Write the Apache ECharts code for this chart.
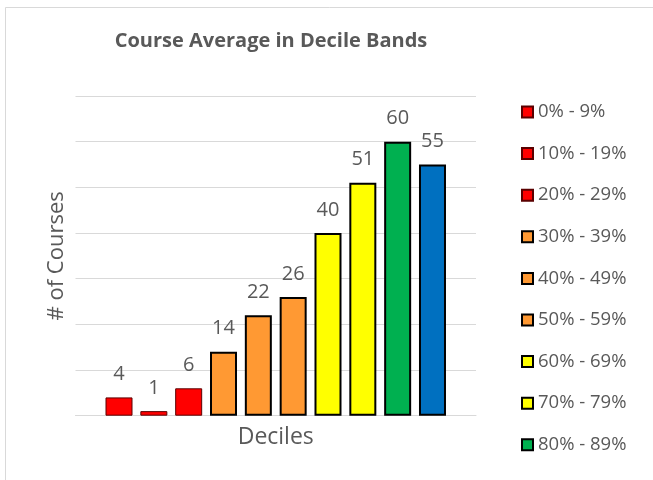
<!DOCTYPE html>
<html>
<head>
<meta charset="utf-8">
<script src="https://cdn.jsdelivr.net/npm/echarts@6/dist/echarts.min.js"></script>
<style>
html,body{margin:0;padding:0;background:#fff;}
#c{width:653px;height:480px;}
</style>
</head>
<body>
<div id="c"></div>
<script>
const deciles = ['0% - 9%','10% - 19%','20% - 29%','30% - 39%','40% - 49%','50% - 59%','60% - 69%','70% - 79%','80% - 89%','90% - 99%'];
const counts = [4,1,6,14,22,26,40,51,60,55];
const categories = ['Deciles'];
const yTicks = [0,10,20,30,40,50,60,70];
// the legend in the picture only has room for the first nine entries
const legendShown = deciles.slice(0, 9);

const fills = ['#FF0000','#FF0000','#FF0000','#FF9933','#FF9933','#FF9933','#FFFF00','#FFFF00','#00B050','#0070C0'];
const FONT = '"Open Sans", sans-serif';

const chart = echarts.init(document.getElementById('c'), null, {renderer:'canvas'});
const series = deciles.map((name, i) => {
  const red = fills[i] === '#FF0000';
  return {
    name: name,
    type: 'bar',
    data: [counts[i]],
    barWidth: 27,
    barGap: '29%',
    itemStyle: {
      color: fills[i],
      borderColor: red ? '#5a0000' : '#000000',
      borderWidth: red ? 1 : 2
    },
    label: {
      show: true,
      position: 'top',
      distance: 13,
      color: '#595959',
      fontFamily: FONT,
      fontSize: 20
    }
  };
});

chart.setOption({
  animation: false,
  backgroundColor: '#ffffff',
  title: {
    text: 'Course Average in Decile Bands',
    left: 266,
    textAlign: 'center',
    top: 26,
    textStyle: {fontFamily: FONT, fontSize: 20, fontWeight: 'bold', color: '#595959'}
  },
  grid: {left: 75.5, right: 177, top: 96, bottom: 64.3, containLabel: false},
  legend: {
    orient: 'vertical',
    left: 516,
    top: 97,
    height: 600,
    itemWidth: 11,
    itemHeight: 11,
    itemGap: 21.6,
    icon: 'rect',
    textStyle: {fontFamily: FONT, fontSize: 18.5, color: '#595959', lineHeight: 20},
    data: legendShown
  },
  xAxis: {
    type: 'category',
    data: categories,
    name: 'Deciles',
    nameLocation: 'middle',
    nameGap: 10,
    nameTextStyle: {fontFamily: FONT, fontSize: 23, color: '#595959'},
    axisLine: {show: true, lineStyle: {color: '#D9D9D9', width: 1}},
    axisTick: {show: false},
    axisLabel: {show: false}
  },
  yAxis: {
    type: 'value',
    min: yTicks[0],
    max: yTicks[yTicks.length-1],
    interval: yTicks[1]-yTicks[0],
    name: '# of Courses',
    nameLocation: 'middle',
    nameGap: 8,
    nameTextStyle: {fontFamily: FONT, fontSize: 22, color: '#595959'},
    axisLine: {show: false},
    axisTick: {show: false},
    axisLabel: {show: false},
    splitLine: {show: true, lineStyle: {color: '#D9D9D9', width: 1}}
  },
  graphic: [{
    type: 'polyline',
    silent: true,
    shape: {points: [[5.5, 490], [5.5, 7.5], [660, 7.5]]},
    style: {stroke: '#D9D9D9', lineWidth: 1, fill: null}
  }],
  series: series
});
</script>
</body>
</html>
